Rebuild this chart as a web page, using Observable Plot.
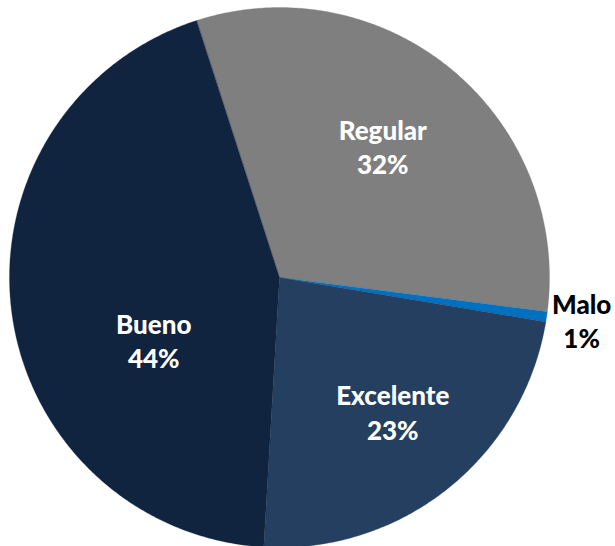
<!DOCTYPE html>
<html>
<head>
<meta charset="utf-8">
<script src="https://cdn.jsdelivr.net/npm/d3@7"></script>
<script src="https://cdn.jsdelivr.net/npm/@observablehq/plot@0.6"></script>
<style>
  html, body { margin: 0; padding: 0; background: #ffffff; }
  #chart { width: 615px; height: 546px; }
</style>
</head>
<body>
<div id="chart"></div>
<script>
// ---- data ----
const categories = ["Regular", "Malo", "Excelente", "Bueno"];
const values = [32.0, 0.6, 23.3, 44.1];
const pctLabels = ["32%", "1%", "23%", "44%"];
const colors = ["#7F7F7F", "#0070C0", "#243F60", "#11243F"];
const labelColors = ["#ffffff", "#000000", "#ffffff", "#ffffff"];

// ---- layout (not data) ----
const W = 615, H = 546;
const cx = 279, cy = 277, R = 270;
const startDeg = -17.9;
const labelRadius = [0.62, 1.13, 0.65, 0.52];
const labelAngleShift = [-1.6, -0.4, -1.6, -19.1];

const rows = categories.map((c, i) => ({name: c, value: values[i], color: colors[i], pct: pctLabels[i], labelColor: labelColors[i], i}));
const toRad = Math.PI / 180;
const pie = d3.pie().sort(null).value(d => d.value)
  .startAngle(startDeg * toRad).endAngle((startDeg + 360) * toRad);
const arcs = pie(rows);

// polygon outline of each slice in unit coordinates (y up)
function slicePoints(a) {
  const pts = [{x: 0, y: 0}];
  const n = Math.max(4, Math.ceil((a.endAngle - a.startAngle) / (0.5 * toRad)));
  for (let k = 0; k <= n; k++) {
    const t = a.startAngle + (a.endAngle - a.startAngle) * k / n;
    pts.push({x: Math.sin(t), y: Math.cos(t)});
  }
  return pts;
}

const labels = arcs.map(a => {
  const i = a.data.i;
  const mid = (a.startAngle + a.endAngle) / 2 + labelAngleShift[i] * toRad;
  return {
    x: labelRadius[i] * Math.sin(mid),
    y: labelRadius[i] * Math.cos(mid),
    text: a.data.name + "\n" + a.data.pct,
    fill: a.data.labelColor
  };
});

const chart = Plot.plot({
  width: W,
  height: H,
  margin: 0,
  style: {background: "#ffffff", overflow: "visible"},
  x: {type: "linear", domain: [-cx / R, (W - cx) / R], range: [0, W], axis: null},
  y: {type: "linear", domain: [cy / R, -(H - cy) / R], range: [0, H], axis: null},
  marks: [
    ...arcs.map(a => Plot.line(slicePoints(a), {
      x: "x", y: "y", fill: a.data.color, stroke: a.data.color, strokeWidth: 0.3,
      curve: "linear-closed"
    })),
    Plot.text(labels, {
      x: "x", y: "y", text: "text", fill: d => d.fill,
      fontSize: 26, fontWeight: 900, fontFamily: "Lato, 'Open Sans', sans-serif",
      lineHeight: 1.32, textAnchor: "middle", lineAnchor: "middle"
    })
  ]
});
document.getElementById("chart").appendChild(chart);
</script>
</body>
</html>
